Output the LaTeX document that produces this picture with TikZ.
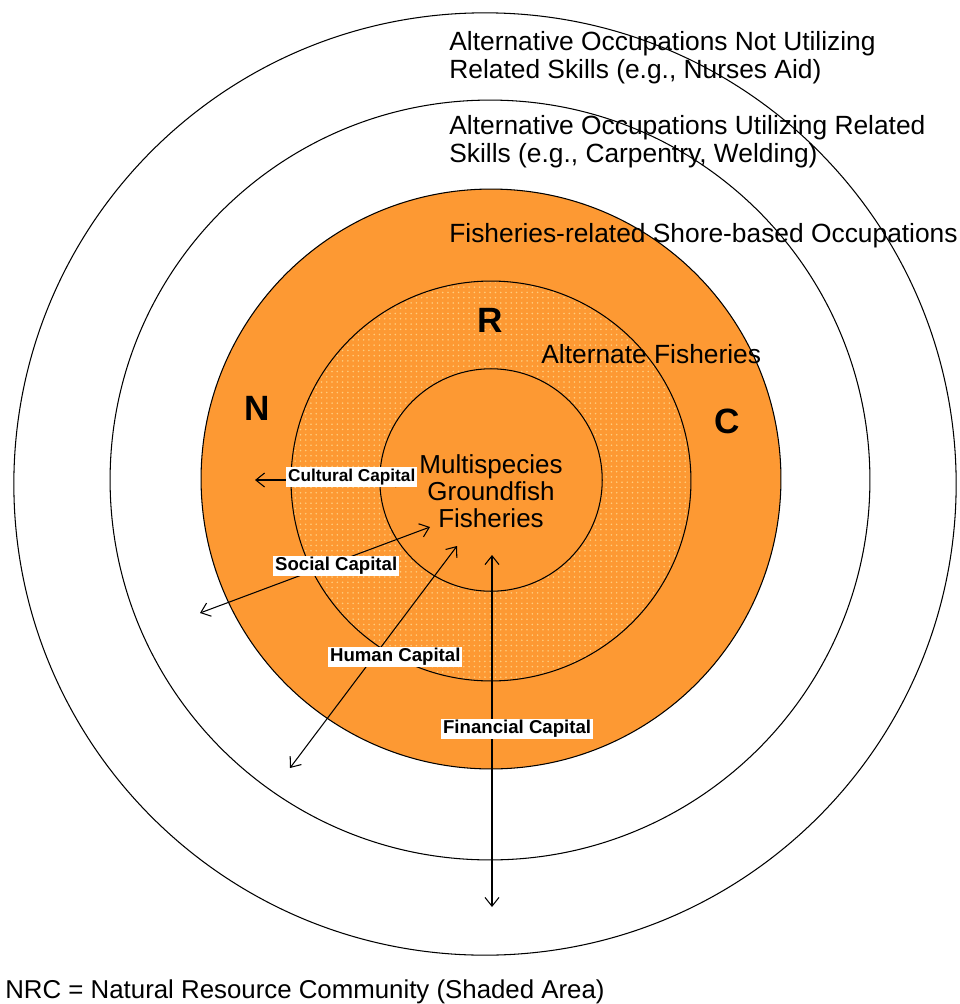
\documentclass[tikz,border=0pt]{standalone}
\usepackage{xcolor}
\usepackage{fontspec}
\setmainfont{Liberation Sans}
\usepackage{tikz}
\usetikzlibrary{positioning, patterns, arrows.meta}
\definecolor{nrcorange}{RGB}{253,153,51}
\definecolor{nrcdots}{RGB}{255,205,125}

\begin{document}
\begin{tikzpicture}[x=0.02cm, y=-0.02cm, every node/.style={inner sep=0pt}]
		\useasboundingbox (0,0) rectangle (960,1004);
		
		\tikzstyle{ring}=[draw=black, circle, line width=0.6pt, fill=white]
		\tikzstyle{ringtext}=[anchor=west, align=left, text=black, font=\fontsize{15}{15.9}\selectfont]
		\tikzstyle{bigletter}=[text=black, font=\bfseries\fontsize{20}{22}\selectfont]
		\tikzstyle{caplabel}=[anchor=west, fill=white, inner sep=1pt, text=black, font=\bfseries\fontsize{10.6}{11}\selectfont]
		\tikzstyle{capline}=[draw=black, line width=0.6pt, {Straight Barb[length=5pt, width=8pt]}-{Straight Barb[length=5pt, width=8pt]}]
		
		%% rings, outside in
		\node [ring, minimum size=18.85cm] (R1) at (485,484) {};
		\node [ring, minimum size=15.2cm] (R2) at (490,480) {};
		\node [ring, minimum size=11.6cm, fill=nrcorange] (R3) at (491,479) {};
		\node [ring, minimum size=8.0cm, fill=nrcorange] (R4) at (491,481) {};
		\fill [pattern=dots, pattern color=nrcdots] (R4.center) circle (3.98cm);
		\node [ring, minimum size=4.45cm, fill=nrcorange] (R5) at (491,480) {};
		
		%% ring texts
		\node [ringtext] (T1) at (449,58) {Alternative Occupations Not Utilizing\\Related Skills (e.g., Nurses Aid)};
		\node [ringtext] (T2) at (449,142) {Alternative Occupations Utilizing Related\\Skills (e.g., Carpentry, Welding)};
		\node [ringtext] (T3) at (449,236) {Fisheries-related Shore-based Occupations};
		\node [ringtext] (T4) at (541,354) {Alternate Fisheries};
		\node [ringtext, anchor=center, align=center, font=\fontsize{14.8}{15.2}\selectfont] (T5) at (491,491) {Multispecies\\Groundfish\\Fisheries};
		
		\node [bigletter] (N) at (257,408) {N};
		\node [bigletter] (R) at (490,320) {R};
		\node [bigletter] (C) at (727,421) {C};
		
		%% capitals
		\coordinate (A1) at (255,480);
		\coordinate (A2) at (405,480);
		\coordinate (B1) at (200,613);
		\coordinate (B2) at (430,527);
		\coordinate (H1) at (290,768);
		\coordinate (H2) at (457,546);
		\coordinate (F1) at (492,907);
		\coordinate (F2) at (492,555);
		\draw [capline] (A1) -- (A2);
		\draw [capline] (B1) -- (B2);
		\draw [capline] (H1) -- (H2);
		\draw [capline] (F1) -- (F2);
		
		\node [caplabel, font=\bfseries\fontsize{9.8}{11}\selectfont] (L1) at (286,477) {Cultural Capital};
		\node [caplabel] (L2) at (273,566) {Social Capital};
		\node [caplabel] (L3) at (328,657) {Human Capital};
		\node [caplabel] (L4) at (441,729) {Financial Capital};
		
		\node [ringtext, font=\fontsize{14.7}{15.9}\selectfont] (T6) at (5,992) {NRC = Natural Resource Community (Shaded Area)};
		\end{tikzpicture}
\end{document}
